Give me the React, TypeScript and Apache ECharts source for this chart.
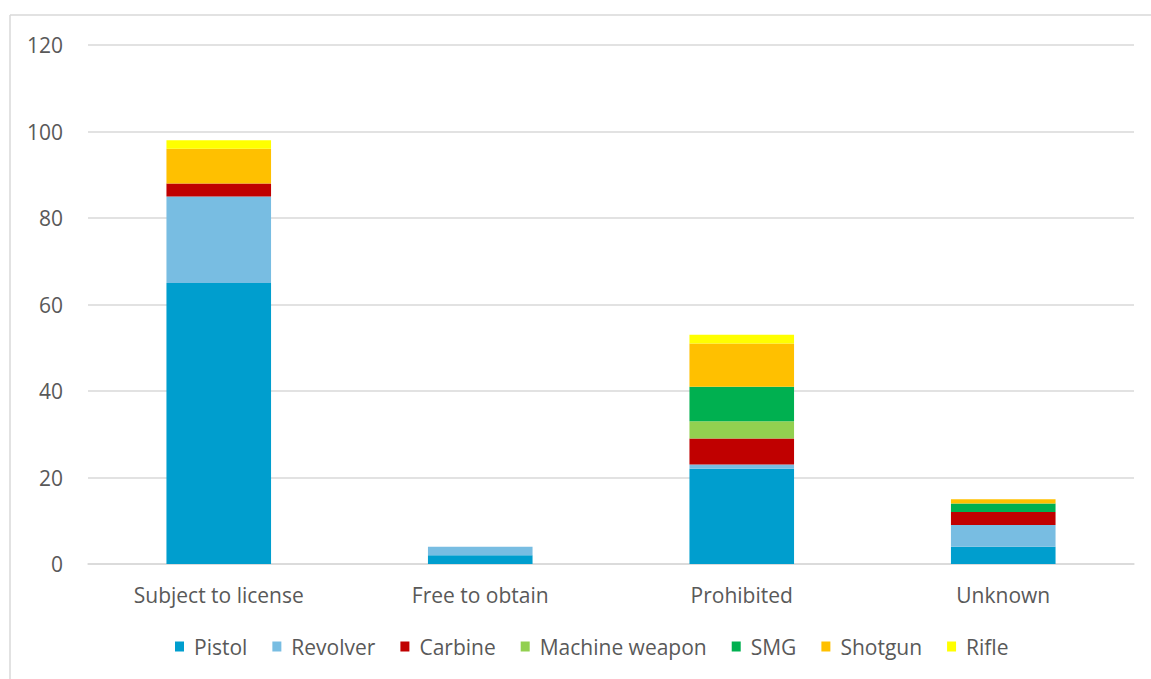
import React, { useEffect, useRef } from "react";
import * as echarts from "echarts";

const categories = ["Subject to license", "Free to obtain", "Prohibited", "Unknown"];
const seriesNames = ["Pistol", "Revolver", "Carbine", "Machine weapon", "SMG", "Shotgun", "Rifle"];
const colors = ["#009ECE", "#78BDE2", "#C00000", "#92D050", "#00B050", "#FFC000", "#FFFF00"];
const pistol = [65, 2, 22, 4];
const revolver = [20, 2, 1, 5];
const carbine = [3, 0, 6, 3];
const machineWeapon = [0, 0, 4, 0];
const smg = [0, 0, 8, 2];
const shotgun = [8, 0, 10, 1];
const rifle = [2, 0, 2, 0];
const values = [pistol, revolver, carbine, machineWeapon, smg, shotgun, rifle];

const FONT = "'Open Sans', sans-serif";

export default function App() {
  const ref = useRef<HTMLDivElement>(null);
  useEffect(() => {
    if (!ref.current) return;
    const chart = echarts.init(ref.current, undefined, { renderer: "svg" });
    chart.setOption({
      animation: false,
      backgroundColor: "#ffffff",
      grid: { left: 88, right: 17, top: 45, bottom: 115 },
      legend: {
        top: 631,
        left: 170,
        itemWidth: 9,
        itemHeight: 10,
        itemGap: 25,
        icon: "rect",
        textStyle: { color: "#595959", fontSize: 21, fontFamily: FONT, padding: [0, 0, 0, 5] },
        data: seriesNames,
      },
      xAxis: {
        type: "category",
        data: categories,
        axisLine: { lineStyle: { color: "#D9D9D9", width: 1.5 } },
        axisTick: { show: false },
        axisLabel: { color: "#595959", fontSize: 21, fontFamily: FONT, margin: 20 },
      },
      yAxis: {
        type: "value",
        min: 0,
        max: 120,
        interval: 20,
        axisLine: { show: false },
        axisTick: { show: false },
        splitLine: { lineStyle: { color: "#D9D9D9", width: 1.5 } },
        axisLabel: { color: "#595959", fontSize: 21, fontFamily: FONT, margin: 25 },
      },
      graphic: [
        { type: "line", shape: { x1: 10, y1: 15, x2: 1151, y2: 15 }, style: { stroke: "#D9D9D9", lineWidth: 1.5 } },
        { type: "line", shape: { x1: 10, y1: 15, x2: 10, y2: 679 }, style: { stroke: "#D9D9D9", lineWidth: 1.5 } },
      ],
      series: seriesNames.map((name, i) => ({
        name,
        type: "bar",
        stack: "total",
        data: values[i],
        barWidth: "40%",
        itemStyle: { color: colors[i] },
      })),
    });
    return () => chart.dispose();
  }, []);
  return <div ref={ref} style={{ width: 1151, height: 679, position: "absolute", left: 0, top: 0 }} />;
}
